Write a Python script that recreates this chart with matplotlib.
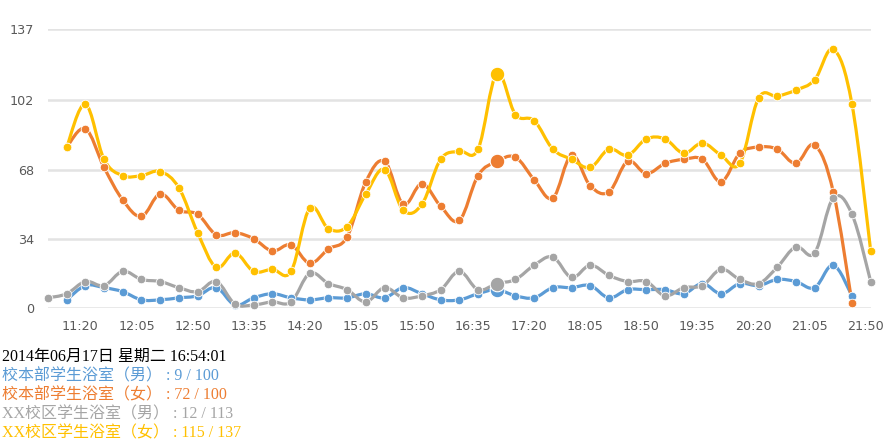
import numpy as np
import matplotlib
matplotlib.use("Agg")
from matplotlib import pyplot as plt
from matplotlib.path import Path
from matplotlib.patches import PathPatch
from matplotlib.transforms import ScaledTranslation

# - - - - - - - DATA - - - - - - -
tick_labels = ["11:20", "12:05", "12:50", "13:35", "14:20", "15:05", "15:50", "16:35",
               "17:20", "18:05", "18:50", "19:35", "20:20", "21:05", "21:50"]
y_ticks = [0, 34, 68, 102, 137]

# 45 points, 15 min apart, starting at 10:50
blue = [None, 4, 11, 10, 8, 4, 4, 5, 6, 10, 1.5, 5, 7, 5, 4, 5, 5, 7, 5, 10, 7, 4, 4, 7, 9,
        6, 5, 10, 10, 11, 5, 9, 9, 9, 7, 12, 7, 12, 11, 14, 13, 10, 21, 6, None]
orange = [None, 79, 88, 69, 53, 45, 56, 48, 46, 36, 37, 34, 28, 31, 22, 29, 35, 62, 72, 51, 61, 50, 43, 65, 72,
          74, 63, 54, 75, 60, 57, 72, 66, 71, 73, 73, 62, 76, 79, 78, 71, 80, 57, 2.5, None]
gray = [5, 7, 13, 11, 18, 14, 13, 10, 8, 13, 2, 1.5, 3, 3, 17, 12, 9, 3, 10, 5, 6, 9, 18, 9, 12,
        14, 21, 25, 15, 21, 16, 13, 13, 6, 10, 11, 19, 14, 12, 20, 30, 27, 54, 46, 13]
yellow = [None, 79, 100, 73, 65, 65, 67, 59, 37, 20, 27, 18, 19, 18, 49, 39, 40, 56, 68, 48, 51, 73, 77, 78, 115,
          95, 92, 78, 73, 69, 78, 75, 83, 83, 76, 81, 75, 71, 103, 104, 107, 112, 127, 100, 28]

names = ["校本部学生浴室（男）", "校本部学生浴室（女）", "XX校区学生浴室（男）", "XX校区学生浴室（女）"]
capacity = [100, 100, 113, 137]
colors = ["#5B9BD5", "#ED7D31", "#A5A5A5", "#FFC000"]
hover_idx = 24
stamp = "2014年06月17日 星期二 16:54:01"


# - - - - - - - METHODS - - - - - - -
def smooth_path(xs, ys, k=0.18):
	pts = np.column_stack([xs, ys]).astype(float)
	n = len(pts)
	verts = [pts[0]]
	codes = [Path.MOVETO]
	for i in range(n - 1):
		p0 = pts[i]
		p1 = pts[i + 1]
		prev = pts[i - 1] if i > 0 else p0
		nxt = pts[i + 2] if i + 2 < n else p1
		c1 = p0 + (p1 - prev) * k
		c2 = p1 - (nxt - p0) * k
		verts += [c1, c2, p1]
		codes += [Path.CURVE4] * 3
	return Path(verts, codes)


def draw_series(ax, values, color):
	xs = [i for i, v in enumerate(values) if v is not None]
	ys = [v for v in values if v is not None]
	patch = PathPatch(smooth_path(xs, ys), facecolor="none", edgecolor=color,
	                  lw=2.3, zorder=3, clip_on=False, capstyle="round", joinstyle="round")
	ax.add_patch(patch)
	ax.plot(xs, ys, ls="none", marker="o", ms=6.2, mfc=color, mec="white", mew=0.6,
	        zorder=5, clip_on=False)


# - - - - - - - MAIN - - - - - - -
def main():
	fig = plt.figure(figsize=(8.9, 4.48), dpi=100)
	ax = fig.add_axes([48 / 890, 140 / 448, (870.7 - 48) / 890, 279 / 448])

	for series, c in zip([blue, orange, gray, yellow], colors):
		draw_series(ax, series, c)

	for series, c in zip([blue, orange, gray, yellow], colors):
		ax.plot([hover_idx], [series[hover_idx]], ls="none", marker="o", ms=10.5,
		        mfc=c, mec="white", mew=0.8, zorder=6, clip_on=False)

	ax.set_xlim(0, len(gray) - 1)
	ax.set_ylim(0, 137)
	ax.set_yticks(y_ticks)
	ax.set_xticks(range(2, len(gray), 3))
	ax.set_xticklabels(tick_labels)
	ax.grid(axis="y", color="#e3e3e3", lw=1.8, zorder=0)
	ax.set_axisbelow(True)
	for s in ax.spines.values():
		s.set_visible(False)
	ax.tick_params(length=0, labelsize=9.2, colors="#595959")
	ax.tick_params(axis="y", pad=10)
	ax.tick_params(axis="x", pad=9)
	shift = ScaledTranslation(-5 / 100, 0, fig.dpi_scale_trans)
	for lab in ax.get_xticklabels():
		lab.set_transform(lab.get_transform() + shift)

	fam = ["Liberation Serif", "Noto Sans CJK SC"]
	fig.text(2 / 890, 1 - 357 / 448, stamp, color="black", fontsize=11.5,
	         family=fam, va="center", ha="left")
	for i in range(4):
		cur = [blue, orange, gray, yellow][i][hover_idx]
		txt = f"{names[i]} : {cur:g} / {capacity[i]}"
		fig.text(2 / 890, 1 - (376 + 19 * i) / 448, txt, color=colors[i], fontsize=11.5,
		         family=fam, va="center", ha="left")

	fig.savefig("out.png", dpi=100)


# - - - - - - - RUN - - - - - - -
if __name__ == "__main__":
	main()
